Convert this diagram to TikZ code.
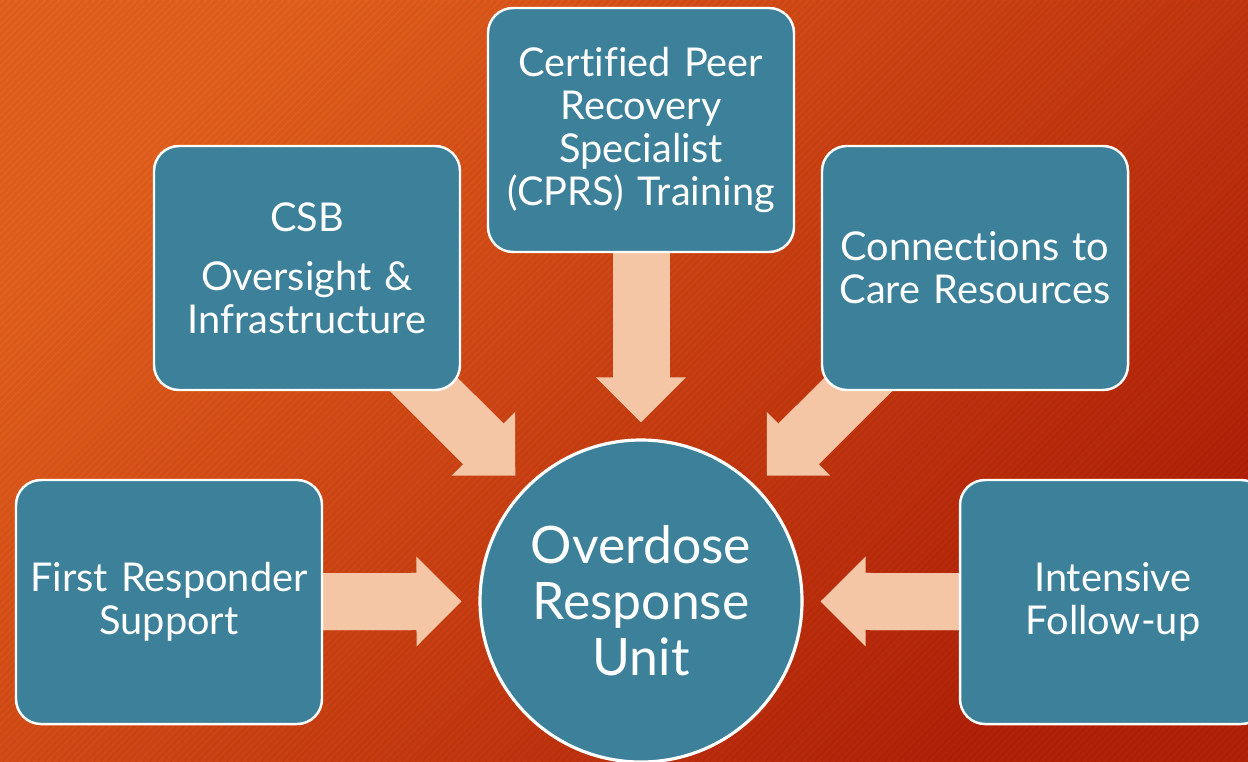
\documentclass[tikz,border=0pt]{standalone}
\usepackage{fontspec}
\setmainfont{Lato}[Ligatures=NoCommon]
\usetikzlibrary{arrows.meta}
\definecolor{bgA}{HTML}{E7621E}
\definecolor{bgB}{HTML}{B42208}
\definecolor{boxcol}{HTML}{3D8099}
\definecolor{arrowcol}{HTML}{F5C6A6}
\pgfdeclarelayer{fondo}
\pgfdeclarelayer{flechas}
\pgfsetlayers{fondo,flechas,main}
\begin{document}
\begin{tikzpicture}[
    box/.style={draw=white, line width=0.7pt, fill=boxcol, rounded corners=0.25cm,
        minimum width=3.06cm, minimum height=2.44cm, text width=3.0cm, align=center,
        inner sep=0pt, text=white, font=\fontsize{11.3}{12.2}\selectfont},
    unit/.style={circle, draw=white, line width=0.9pt, fill=boxcol, minimum size=3.22cm,
        align=center, inner sep=0pt, text=white, font=\fontsize{14.7}{15.9}\selectfont},
    shaft/.style={draw=arrowcol, line width=0.57cm},
    blockarrow/.style={shaft, -{Triangle[length=0.45cm,width=0.9cm,line width=0pt]}}
]

    \def\W{12.48}
    \def\H{7.61}
    \useasboundingbox (0,0) rectangle (\W,\H);

    %Fondo
    \begin{pgfonlayer}{fondo}
        \shade[top color=bgA, bottom color=bgB, shading angle=45] (0,0) rectangle (\W,\H);
        \begin{scope}
            \clip (0,0) rectangle (\W,\H);
            \foreach \i in {0,...,290}
                \draw[black, opacity=0.05, line width=0.9pt] ({\i*0.07-\H},0) -- ++(\H,\H);
        \end{scope}
    \end{pgfonlayer}

    %Cajas
    \node[box] (fr) at (1.69,1.59) {First Responder\\ Support};
    \node[box] (csb) at (3.07,4.93) {CSB\\[0.16cm] Oversight \&\\ Infrastructure};
    \node[box] (cprs) at (6.41,6.31) {Certified Peer\\ Recovery\\ Specialist\\ (CPRS) Training};
    \node[box] (ccr) at (9.75,4.93) {Connections to\\ Care Resources};
    \node[box] (ifu) at (11.13,1.59) {Intensive\\ Follow-up};
    \node[unit] (odu) at (6.41,1.60) {Overdose\\ Response\\ Unit};

    %Flechas
    \begin{pgfonlayer}{flechas}
        \foreach \n/\s/\t in {fr/0.17cm/0.58cm, csb/0.15cm/0.56cm, cprs/0.16cm/0.57cm,
                ccr/0.15cm/0.56cm, ifu/0.17cm/0.58cm}{
            \draw[blockarrow, shorten >=\s] (\n.center) -- (odu);
            \draw[shaft, shorten >=\t] (\n.center) -- (odu);
        }
    \end{pgfonlayer}

\end{tikzpicture}
\end{document}
